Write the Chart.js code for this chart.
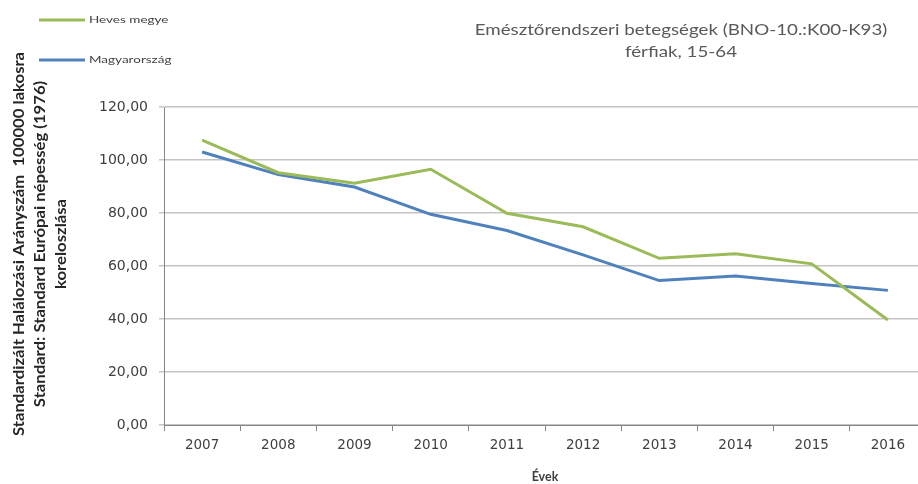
<!DOCTYPE html>
<html>
<head>
<meta charset="utf-8">
<script src="https://cdn.jsdelivr.net/npm/chart.js@4/dist/chart.umd.min.js"></script>
<style>
  html, body { margin: 0; padding: 0; background: #fff; overflow: hidden; }
  #wrap { width: 930px; height: 484px; position: relative; }
</style>
</head>
<body>
<div id="wrap"><canvas id="chart"></canvas></div>
<script>
// --- data ---
const years = ['2007', '2008', '2009', '2010', '2011', '2012', '2013', '2014', '2015', '2016'];
const hevesValues = [107.5, 95.2, 91.2, 96.5, 79.9, 74.8, 62.9, 64.6, 60.8, 39.6];
const huValues = [103.0, 94.5, 89.8, 79.5, 73.4, 64.2, 54.5, 56.2, 53.4, 50.8];
const titleLines = ['Emésztőrendszeri betegségek (BNO-10.:K00-K93)', 'férfiak, 15-64'];
const yTitleLines = [
  'Standardizált Halálozási Arányszám  100000 lakosra',
  'Standard: Standard Európai népesség (1976)',
  'koreloszlása'
];
const GREEN = '#9BBB59';
const BLUE = '#4F81BD';
const FONT = 'Lato, "Open Sans", sans-serif';
const TICK_FONT = '"DejaVu Sans", sans-serif';

// legend, title and y-axis title drawn around the plot
const headerPlugin = {
  id: 'header',
  afterDraw(chart) {
    const ctx = chart.ctx;
    ctx.save();
    const items = [
      { label: 'Heves megye', color: GREEN, y: 20 },
      { label: 'Magyarország', color: BLUE, y: 60 }
    ];
    items.forEach(it => {
      ctx.strokeStyle = it.color;
      ctx.lineWidth = 3;
      ctx.beginPath();
      ctx.moveTo(39, it.y);
      ctx.lineTo(85, it.y);
      ctx.stroke();
      ctx.save();
      ctx.translate(89, it.y);
      ctx.scale(1.35, 1);
      ctx.fillStyle = '#404040';
      ctx.font = '10px ' + FONT;
      ctx.textBaseline = 'middle';
      ctx.fillText(it.label, 0, 0);
      ctx.restore();
    });
    titleLines.forEach((t, i) => {
      ctx.save();
      ctx.translate(681, 30 + i * 22);
      ctx.scale(1.25, 1);
      ctx.fillStyle = '#595959';
      ctx.font = '15px ' + FONT;
      ctx.textAlign = 'center';
      ctx.textBaseline = 'middle';
      ctx.fillText(t, 0, 0);
      ctx.restore();
    });
    // rotated y-axis title, three centred lines
    yTitleLines.forEach((t, i) => {
      ctx.save();
      ctx.translate(19 + i * 21, 244);
      ctx.rotate(-Math.PI / 2);
      ctx.scale(1.15, 1);
      ctx.fillStyle = '#262626';
      ctx.font = 'bold 14.5px ' + FONT;
      ctx.textAlign = 'center';
      ctx.textBaseline = 'middle';
      ctx.fillText(t, 0, 0);
      ctx.restore();
    });
    ctx.restore();
  }
};

const lineStyle = (color) => ({
  borderColor: color,
  backgroundColor: color,
  borderWidth: 3,
  pointRadius: 0,
  tension: 0,
  fill: false
});

new Chart(document.getElementById('chart'), {
  type: 'line',
  data: {
    labels: years,
    datasets: [
      { label: 'Heves megye', data: hevesValues, ...lineStyle(GREEN) },
      { label: 'Magyarország', data: huValues, ...lineStyle(BLUE) }
    ]
  },
  options: {
    responsive: true,
    maintainAspectRatio: false,
    animation: false,
    layout: { padding: { top: 107, right: 4, left: 0, bottom: 0 } },
    plugins: { legend: { display: false }, tooltip: { enabled: false } },
    scales: {
      x: {
        offset: true,
        afterFit: s => { s.height = 59; },
        grid: { offset: true, drawOnChartArea: false, drawTicks: true, tickLength: 6, color: '#868686' },
        border: { color: '#868686' },
        ticks: { color: '#404040', padding: 6, font: { family: TICK_FONT, size: 13.5 } },
        title: { display: true, text: 'Évek', color: '#404040', padding: { top: 0, bottom: 0 }, font: { family: FONT, size: 12.5, weight: 'bold' } }
      },
      y: {
        min: 0,
        max: 120,
        afterFit: s => { s.width = 164; },
        grid: { color: '#c4c4c4', tickLength: 5, lineWidth: 1.5 },
        border: { color: '#868686' },
        ticks: {
          stepSize: 20,
          color: '#404040',
          padding: 11,
          font: { family: TICK_FONT, size: 14 },
          callback: v => v.toFixed(2).replace('.', ',')
        }
      }
    }
  },
  plugins: [headerPlugin]
});
</script>
</body>
</html>
